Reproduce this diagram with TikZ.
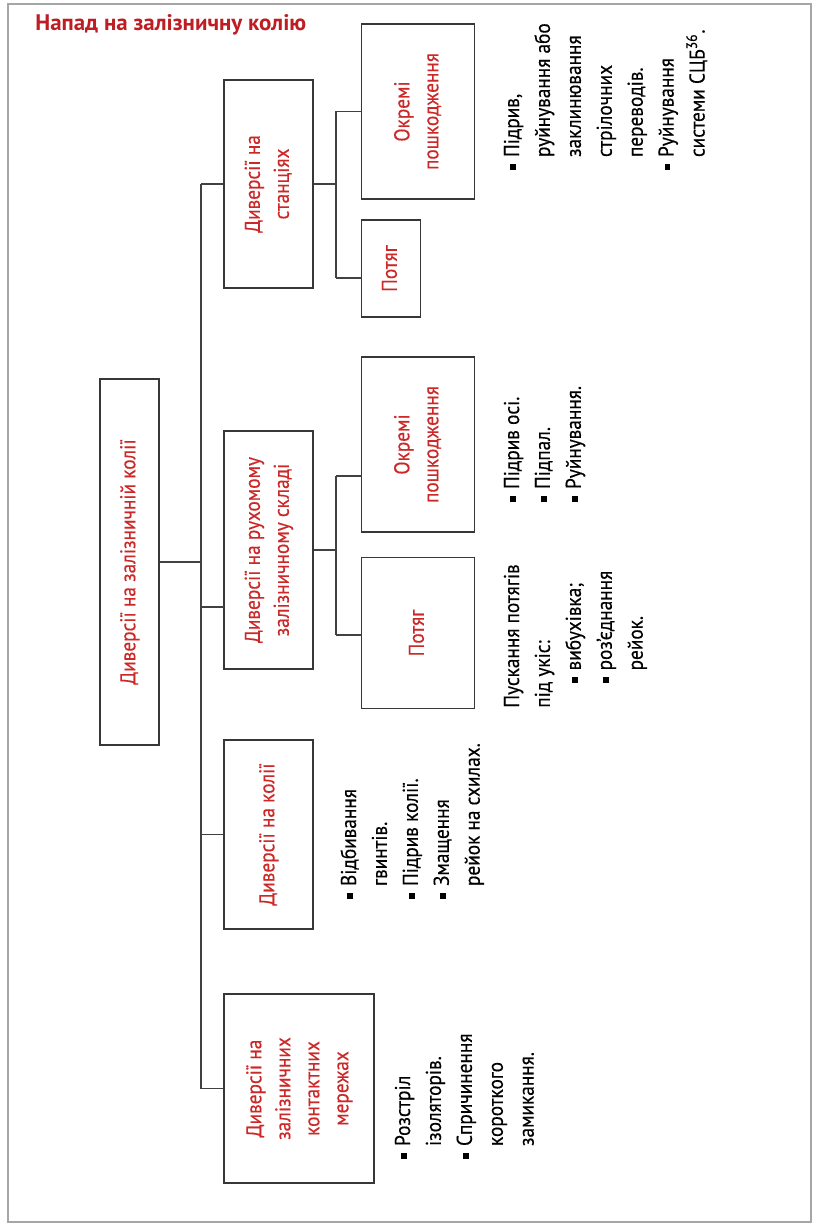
\documentclass[tikz,border=0pt]{standalone}
\usepackage{fontspec}
\setmainfont{PT Sans}[FakeStretch=0.9, FakeBold=0.3]
\newfontfamily\titlefont{PT Sans}[FakeStretch=1.02]
\usepackage{graphicx}

\definecolor{boxred}{RGB}{205,40,40}
\definecolor{titlered}{RGB}{190,30,35}
\definecolor{boxgray}{RGB}{55,55,55}
\definecolor{linegray}{RGB}{65,65,65}

\newcommand{\lstfont}{\fontsize{12.2}{17.6}\selectfont}
\newcommand{\labfont}{\fontsize{12.2}{16.5}\selectfont}
\newcommand{\sq}{\makebox[7.2pt][l]{\rule[1.8pt]{3.3pt}{3.3pt}}}
\newcommand{\hang}{\hspace*{7.2pt}}
\newcommand{\vtxt}[2][l]{\rotatebox{90}{\begin{tabular}{@{}#1@{}}#2\end{tabular}}}

\begin{document}
\begin{tikzpicture}[
  x=0.02cm, y=-0.02cm,
  box/.style  = {draw=boxgray, line width=0.9pt, inner sep=0pt, text=boxred, font=\labfont},
  link/.style = {draw=linegray, line width=0.8pt},
  lst/.style  = {inner sep=0pt, anchor=south west, font=\lstfont},
]
  \fill[white] (0,0) rectangle (817,1226);
  \useasboundingbox (0,0) rectangle (817,1226);
  \draw[gray!70, line width=1pt] (8,4) rectangle (811,1222);

  \node[anchor=base west, inner sep=0pt, text=titlered, font=\titlefont\fontsize{12.8}{14}\selectfont\bfseries] (title) at (35,31) {Напад на залізничну колію};

  % Boxes, rotated text reads upwards.
  \node[box, minimum width=1.18cm, minimum height=7.32cm] (root)  at (129.5,562)   {\vtxt[c]{Диверсії на залізничній колії}};
  \node[box, minimum width=1.78cm, minimum height=4.16cm] (sta)   at (268.5,184)   {\vtxt[c]{Диверсії на\\станціях}};
  \node[box, minimum width=1.78cm, minimum height=4.76cm] (ruh)   at (268.5,550)   {\vtxt[c]{Диверсії на рухомому\\залізничному складі}};
  \node[box, minimum width=1.78cm, minimum height=3.78cm] (kol)   at (268.5,834.5) {\vtxt[c]{Диверсії на колії}};
  \node[box, minimum width=3.00cm, minimum height=3.78cm] (mer)   at (299,1088.5)  {\vtxt[c]{Диверсії на\\залізничних\\контактних\\мережах}};
  \node[box, minimum width=2.26cm, minimum height=3.50cm] (staok) at (418,111.5)   {\vtxt[c]{Окремі\\пошкодження}};
  \node[box, minimum width=1.18cm, minimum height=1.94cm] (stapt) at (391,268.5)   {\vtxt[c]{Потяг}};
  \node[box, minimum width=2.26cm, minimum height=3.50cm] (ruhok) at (418,444.5)   {\vtxt[c]{Окремі\\пошкодження}};
  \node[box, minimum width=2.26cm, minimum height=3.02cm] (ruhpt) at (418,633)     {\vtxt[c]{Потяг}};

  % Lists beside the boxes.
  \node[lst] (lmer)   at (388,1159) {\vtxt{\sq Розстріл\\\hang ізоляторів.\\\sq Спричинення\\\hang короткого\\\hang замикання.}};
  \node[lst] (lkol)   at (334,899)  {\vtxt{\sq Відбивання\\\hang гвинтів.\\\sq Підрив колії.\\\sq Змащення\\\hang рейок на схилах.}};
  \node[lst] (lruhpt) at (497,708)  {\vtxt{Пускання потягів\\під укіс:\\\hspace*{14pt}\sq вибухівка;\\\hspace*{14pt}\sq роз’єднання\\\hspace*{14pt}\hang рейок.}};
  \node[lst] (lruhok) at (497,502)  {\vtxt{\sq Підрив осі.\\\sq Підпал.\\\sq Руйнування.}};
  \node[lst] (lstaok) at (497,170)  {\vtxt{\sq Підрив,\\\hang руйнування або\\\hang заклинювання\\\hang стрілочних\\\hang переводів.\\\sq Руйнування\\\hang системи СЦБ\textsuperscript{36}.}};

  % Connectors.
  \coordinate (tr)       at (201,562);
  \coordinate (tr2)      at (336,0);
  \coordinate (ruh-in)   at (224,607);
  \coordinate (stapt-in) at (361.5,278);
  \coordinate (ruhok-in) at (361.5,476);
  \coordinate (ruhpt-in) at (361.5,635);
  \draw[link] (root.east) -- (tr);
  \draw[link] (sta.west -| tr) -- (mer.west -| tr);
  \foreach \n in {sta, kol, mer}
     \draw[link] (\n.west) -- (\n.west -| tr);
  \draw[link] (ruh-in) -- (ruh-in -| tr);
  \draw[link] (sta.east) -- (sta.east -| tr2);
  \draw[link] (staok.west -| tr2) -- (stapt-in -| tr2);
  \draw[link] (staok.west) -- (staok.west -| tr2);
  \draw[link] (stapt-in) -- (stapt-in -| tr2);
  \draw[link] (ruh.east) -- (ruh.east -| tr2);
  \draw[link] (ruhok-in -| tr2) -- (ruhpt-in -| tr2);
  \foreach \c in {ruhok-in, ruhpt-in}
     \draw[link] (\c) -- (\c -| tr2);
\end{tikzpicture}
\end{document}
